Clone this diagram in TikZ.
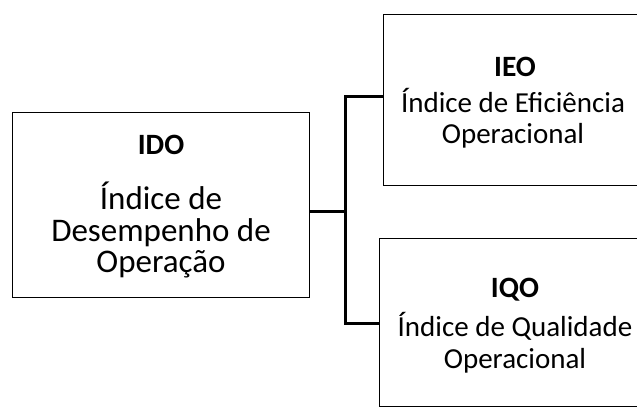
\documentclass[tikz,border=0pt]{standalone}
\usepackage{fontspec}
\setmainfont{Carlito}
\begin{document}
\begin{tikzpicture}[x=1pt,y=-1pt,
  box/.style={draw=black, line width=1.4pt, rectangle, inner sep=0pt, anchor=north west},
  conn/.style={draw=black, line width=3pt, line join=miter},
  ttl/.style={anchor=base, inner sep=0pt, font=\fontsize{29.5}{29.5}\selectfont\bfseries},
  bodyL/.style={anchor=base, inner sep=0pt, font=\fontsize{33}{33}\selectfont},
  bodyR/.style={anchor=base, inner sep=0pt, font=\fontsize{29}{29}\selectfont}]
\useasboundingbox (0,0) rectangle (637,409);
\fill[white] (0,0) rectangle (637,409);
% boxes
\node[box, minimum width=297pt, minimum height=185pt] (ido) at (12,112) {};
\node[box, minimum width=280pt, minimum height=171pt] (ieo) at (383,14) {};
\node[box, minimum width=280pt, minimum height=168pt] (iqo) at (379,238) {};
% texts
\node[ttl] (idoT) at (161,154) {IDO};
\node[bodyL] (idoA) at (161,209) {Índice de};
\node[bodyL] (idoB) at (161,241) {Desempenho de};
\node[bodyL] (idoC) at (161,272) {Operação};
\node[ttl] (ieoT) at (515,77) {IEO};
\node[bodyR] (ieoA) at (513,113) {Índice de Eficiência};
\node[bodyR] (ieoB) at (513,143) {Operacional};
\node[ttl] (iqoT) at (515,297) {IQO};
\node[bodyR] (iqoA) at (515,336) {Índice de Qualidade};
\node[bodyR] (iqoB) at (515,368) {Operacional};
% connectors
\coordinate (jm) at (345,211);
\coordinate (jt) at (345,97);
\coordinate (jb) at (345,323);
\draw[conn] (ido.east |- jm) -- (jm);
\draw[conn] (ieo.west |- jt) -- (jt) -- (jb) -- (iqo.west |- jb);
\end{tikzpicture}
\end{document}
